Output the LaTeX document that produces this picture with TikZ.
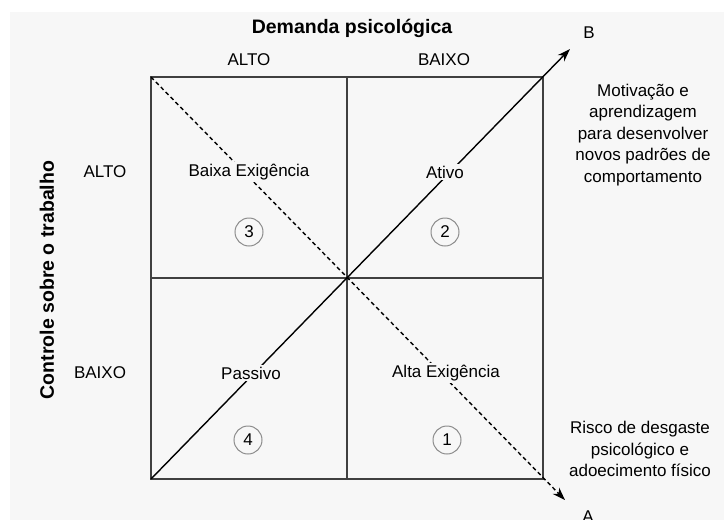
\documentclass[tikz,border=0pt]{standalone}
\usepackage{fontspec}
\setmainfont{Liberation Sans}
\usetikzlibrary{arrows.meta,positioning}
\definecolor{fundo}{HTML}{F7F7F7}
\definecolor{linha}{HTML}{404040}
\tikzset{
  quadro/.style={draw=linha,line width=2pt},
  rotulo/.style={font=\fontsize{17}{20}\selectfont,inner sep=1pt},
  rotulofundo/.style={rotulo,fill=fundo,inner sep=2pt},
  numero/.style={circle,draw=gray!90,line width=1pt,minimum size=28pt,inner sep=0pt,font=\fontsize{17}{20}\selectfont},
  titulo/.style={font=\bfseries\fontsize{19.5}{22}\selectfont},
  nota/.style={align=center,font=\fontsize{17}{21.5}\selectfont},
  seta/.style={line width=1.4pt,-{Stealth[length=13pt,width=9pt]}},
}
\begin{document}
\begin{tikzpicture}[x=1pt,y=-1pt]
  % page and background
  \useasboundingbox (0,0) rectangle (724,520);
  \fill[white] (0,0) rectangle (724,520);
  \fill[fundo] (10,12) rectangle (724,520);

  % frame of the four quadrants
  \coordinate (tl) at (151,77);
  \coordinate (tr) at (543,77);
  \coordinate (bl) at (151,479);
  \coordinate (br) at (543,479);
  \coordinate (mt) at (347,77);
  \coordinate (mb) at (347,479);
  \coordinate (ml) at (151,278);
  \coordinate (mr) at (543,278);
  \draw[quadro] (tl) rectangle (br);
  \draw[quadro] (mt) -- (mb);
  \draw[quadro] (ml) -- (mr);

  % diagonals A and B
  \coordinate (pontaB) at (570,49);
  \coordinate (pontaA) at (565,500);
  \draw[seta] (bl) -- (pontaB);
  \draw[seta,dash pattern=on 4pt off 3pt] (tl) -- (pontaA);
  \node[rotulo] (B) at (589,33) {B};
  \node[rotulo] (A) at (588,517) {A};

  % axes
  \node[titulo] (demanda) at (352,28) {Demanda psicológica};
  \node[rotulo] (altoD) at (249,60) {ALTO};
  \node[rotulo] (baixoD) at (444,60) {BAIXO};
  \node[titulo,rotate=90] (controle) at (47,280) {Controle sobre o trabalho};
  \node[rotulo] (altoC) at (105,172) {ALTO};
  \node[rotulo] (baixoC) at (100,373) {BAIXO};

  % quadrants
  \node[rotulofundo] (baixaExig) at (249,172) {Baixa Exigência};
  \node[rotulofundo] (ativo) at (445,172) {Ativo};
  \node[rotulofundo] (passivo) at (251,373) {Passivo};
  \node[rotulofundo] (altaExig) at (446,373) {Alta Exigência};
  \node[numero] (q3) at (249,232) {3};
  \node[numero] (q2) at (445,232) {2};
  \node[numero] (q4) at (248,440) {4};
  \node[numero] (q1) at (447,440) {1};

  % notes on the right
  \node[nota] (notaB) at (643,135) {Motivação e\\aprendizagem\\para desenvolver\\novos padrões de\\comportamento};
  \node[nota] (notaA) at (640,449) {Risco de desgaste\\psicológico e\\adoecimento físico};
\end{tikzpicture}
\end{document}
